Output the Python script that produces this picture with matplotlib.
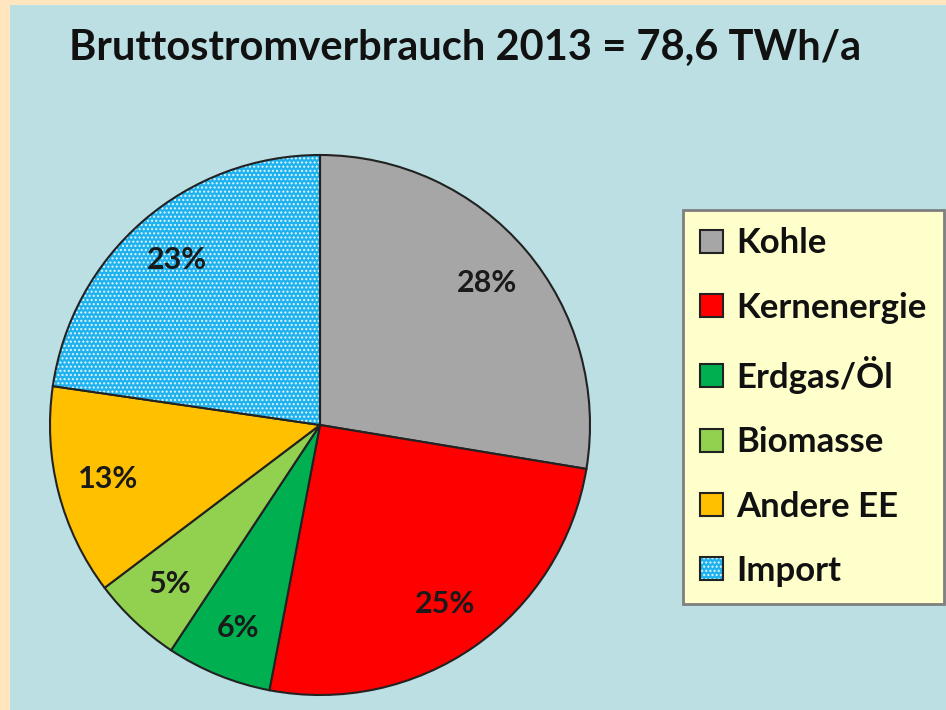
import matplotlib.pyplot as plt

plt.rcParams['font.family'] = ['Lato', 'DejaVu Sans']

labels = ["Kohle", "Kernenergie", "Erdgas/Öl", "Biomasse", "Andere EE", "Import"]
shares = [27.6, 25.4, 6.3, 5.4, 12.6, 22.7]
colors = ["#A6A6A6", "#FF0000", "#00B050", "#92D050", "#FFC000", "#1EB2EE"]

fig = plt.figure(figsize=(9.46, 7.10), dpi=100, facecolor="#FFE6BF")

# light blue panel inside the beige frame
bg = fig.add_axes([10 / 946, 0, 1 - 10 / 946, 1 - 5 / 710])
bg.set_facecolor("#BBDFE3")
bg.set_xticks([])
bg.set_yticks([])
for s in bg.spines.values():
    s.set_visible(False)

fig.text(465 / 946, 1 - 48 / 710, "Bruttostromverbrauch 2013 = 78,6 TWh/a",
         ha="center", va="center", fontsize=30, fontweight="bold", color="#111111")

ax = fig.add_axes([(320 - 270) / 946, (710 - 425 - 270) / 710, 540 / 946, 540 / 710])
ax.set_facecolor("none")
wedges, texts, autotexts = ax.pie(
    shares, colors=colors, startangle=90, counterclock=False,
    autopct=lambda p: f"{p:.0f}%", pctdistance=0.81,
    wedgeprops=dict(edgecolor="#222222", linewidth=1.5),
    textprops=dict(fontsize=22, fontweight="bold", color="#1a1a1a"))
ax.set_xlim(-1, 1)
ax.set_ylim(-1, 1)
ax.set_aspect("equal")
ax.axis("off")

# dotted pattern for Import
wedges[5].set_hatch("....")
wedges[5]._hatch_color = (1, 1, 1, 0.85)

leg = fig.legend(wedges, labels, loc="upper left",
                 bbox_to_anchor=(683 / 946, 1 - 210 / 710),
                 prop=dict(weight="bold", size=25),
                 frameon=True, fancybox=False, facecolor="#FFFFCC",
                 edgecolor="#7F7F7F", framealpha=1,
                 handlelength=0.64, handleheight=0.64, handletextpad=0.4,
                 labelspacing=0.93, borderpad=0.5, borderaxespad=0)
leg.get_frame().set_linewidth(2)
for t in leg.get_texts():
    t.set_color("#111111")

fig.savefig("out.png", dpi=100, facecolor=fig.get_facecolor())
